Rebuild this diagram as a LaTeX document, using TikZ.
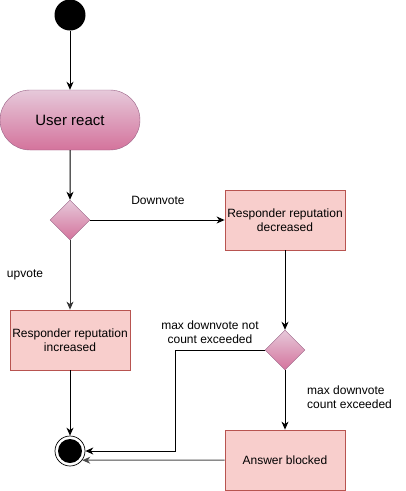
\documentclass[tikz,border=0pt]{standalone}
\usepackage{fontspec}
\setmainfont{Liberation Sans}
\usetikzlibrary{shapes.geometric,shapes.misc,arrows.meta}
\definecolor{boxfill}{HTML}{F8CECC}
\definecolor{boxline}{HTML}{B85450}
\definecolor{pinktop}{HTML}{E6C9DA}
\definecolor{pinkbot}{HTML}{D4739C}
\definecolor{pinkline}{HTML}{996185}
\begin{document}
\begin{tikzpicture}[x=1pt,y=-1pt,
  every node/.style={font=\fontsize{12}{14}\selectfont, inner sep=0pt},
  act/.style={draw=boxline, fill=boxfill, line width=0.8pt, minimum width=120pt, minimum height=60pt, align=center},
  dec/.style={diamond, draw=pinkline, top color=pinktop, bottom color=pinkbot, minimum width=40pt, minimum height=40pt, aspect=1},
  arr/.style={line width=1pt, draw=black, -{Stealth[length=8pt,width=7pt,inset=2.5pt]}},
  lbl/.style={align=center}
]
\useasboundingbox (0,0) rectangle (406,491);
\node[circle, fill=black, minimum size=31pt] (start) at (70,15) {};
\node[rounded rectangle, draw=pinkline, top color=pinktop, bottom color=pinkbot, minimum width=140pt, minimum height=60pt, font=\fontsize{15}{17}\selectfont] (react) at (70,120) {User react};
\node[dec] (d1) at (70,220) {};
\node[act] (decr) at (285,220) {Responder reputation\\decreased};
\node[act] (incr) at (70,340) {Responder reputation\\increased};
\node[dec] (d2) at (285,350) {};
\node[act] (blocked) at (285,460) {Answer blocked};
\node[circle, draw=black, fill=white, line width=0.7pt, minimum size=30pt] (endc) at (70,451) {};
\node[circle, fill=black, minimum size=24pt] (endin) at (70,451) {};
\coordinate (bend) at (175,350);

\draw[arr] (start) -- (react);
\draw[arr] (react) -- (d1);
\draw[arr] (d1.east) -- (decr.west);
\draw[arr, draw=black!80] (d1.south) -- (incr.north);
\draw[arr] (decr.south) -- (d2.north);
\draw[arr] (incr.south) -- (endc.north);
\draw[arr] (d2.south) -- (blocked.north);
\draw[arr] (d2.west) -- (bend) |- (endc.east);
\draw[arr, draw=black!70] (blocked.west) -- (endc.-37);

\node[lbl] (l1) at (158,200) {Downvote};
\node[lbl] (l2) at (25,275) {upvote};
\node[lbl] (l3) at (210,332) {max downvote not\\count exceeded};
\node[align=left, anchor=west] (l4) at (307,397) {max downvote\\count exceeded};
\end{tikzpicture}
\end{document}
